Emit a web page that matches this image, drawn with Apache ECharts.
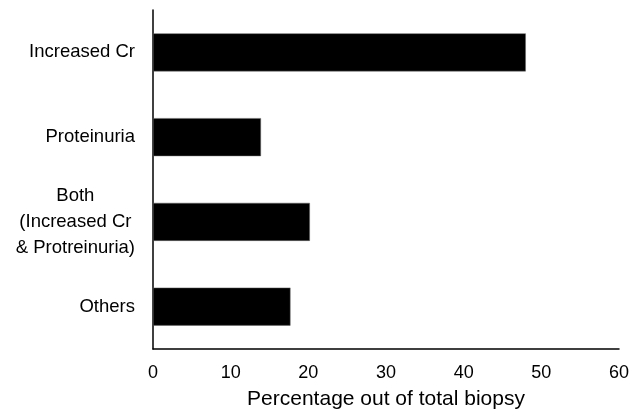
<!DOCTYPE html>
<html>
<head>
<meta charset="utf-8">
<script src="https://cdn.jsdelivr.net/npm/echarts@6/dist/echarts.min.js"></script>
<style>
html,body{margin:0;padding:0;background:#fff;}
#chart{width:630px;height:409px;}
</style>
</head>
<body>
<div id="chart"></div>
<script>
const categories = ['Increased Cr', 'Proteinuria', 'Both\n(Increased Cr\n& Protreinuria)', 'Others'];
const values = [48.0, 13.9, 20.2, 17.7];
const xTicks = [0, 10, 20, 30, 40, 50, 60];
const xTitle = 'Percentage out of total biopsy';

const FONT = '"Liberation Sans", Arial, sans-serif';
const chart = echarts.init(document.getElementById('chart'), null, {renderer: 'canvas'});
chart.setOption({
  animation: false,
  backgroundColor: '#ffffff',
  grid: {left: 153, right: 11, top: 10, bottom: 60, containLabel: false, outerBoundsMode: 'none'},
  xAxis: {
    type: 'value',
    min: xTicks[0],
    max: xTicks[xTicks.length - 1],
    interval: xTicks[1] - xTicks[0],
    name: xTitle,
    nameLocation: 'middle',
    nameGap: 40,
    nameTextStyle: {fontSize: 21, color: '#000', fontFamily: FONT},
    axisLine: {show: true, lineStyle: {color: '#000', width: 1.5}},
    axisTick: {show: false},
    splitLine: {show: false},
    axisLabel: {fontSize: 18, color: '#000', fontFamily: FONT, margin: 15}
  },
  yAxis: {
    type: 'category',
    data: categories,
    inverse: true,
    axisLine: {show: true, lineStyle: {color: '#000', width: 1.5}},
    axisTick: {show: false},
    splitLine: {show: false},
    axisLabel: {
      fontSize: 18.5, color: '#000', fontFamily: FONT, margin: 18, align: 'right',
      formatter: function (v) {
        if (v.indexOf('\n') >= 0) {
          return v.split('\n').map(function (s) { return '{c|' + s + '}'; }).join('\n');
        }
        return v;
      },
      rich: {
        c: {align: 'center', fontSize: 18.5, color: '#000', fontFamily: FONT, lineHeight: 26}
      }
    }
  },
  series: [{
    type: 'bar',
    data: values,
    barWidth: 38,
    itemStyle: {color: '#000', borderColor: '#666', borderWidth: 0.5}
  }]
});
</script>
</body>
</html>
